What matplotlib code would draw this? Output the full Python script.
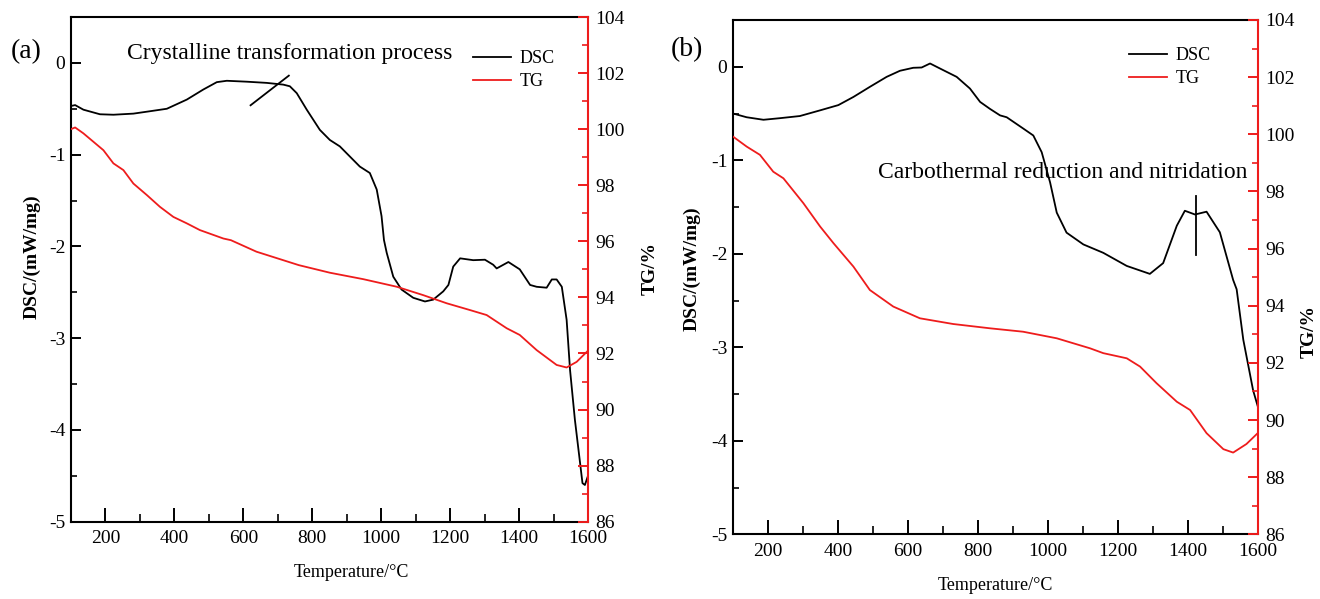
import matplotlib
matplotlib.use('Agg')
import matplotlib.pyplot as plt
from matplotlib.ticker import MultipleLocator

plt.rcParams['font.family'] = ['Liberation Serif', 'DejaVu Serif']
plt.rcParams['axes.unicode_minus'] = False

# ---------------- data ----------------
# panel (a)
a_T_dsc = [100, 112, 136, 184, 223, 281, 329, 378, 436, 484, 523, 552, 610, 668, 716, 735, 755,
           784, 822, 851, 880, 909, 938, 967, 987, 1001, 1008, 1016, 1035, 1059, 1093, 1127, 1151,
           1180, 1195, 1209, 1229, 1267, 1301, 1325, 1335, 1369, 1402, 1432, 1451, 1480, 1495,
           1509, 1524, 1538, 1548, 1562, 1577, 1584, 1591, 1600]
a_dsc = [-0.47, -0.46, -0.51, -0.56, -0.565, -0.553, -0.527, -0.50, -0.40, -0.29, -0.21, -0.195,
         -0.205, -0.218, -0.237, -0.255, -0.33, -0.51, -0.73, -0.84, -0.91, -1.02, -1.13, -1.20,
         -1.38, -1.67, -1.93, -2.07, -2.33, -2.47, -2.56, -2.60, -2.58, -2.49, -2.42, -2.22, -2.13,
         -2.15, -2.145, -2.20, -2.24, -2.17, -2.25, -2.42, -2.44, -2.45, -2.36, -2.36, -2.44, -2.80,
         -3.35, -3.89, -4.36, -4.58, -4.60, -4.50]
a_T_tg = [100, 112, 136, 165, 194, 223, 252, 281, 320, 358, 397, 436, 474, 542, 564, 638, 761,
          851, 948, 1045, 1122, 1190, 1257, 1306, 1364, 1402, 1451, 1509, 1538, 1567, 1600]
a_tg = [100.0, 100.06, 99.85, 99.55, 99.25, 98.78, 98.54, 98.06, 97.65, 97.23, 96.87, 96.64, 96.4,
        96.1, 96.04, 95.63, 95.15, 94.88, 94.65, 94.38, 94.08, 93.79, 93.55, 93.37, 92.9, 92.66,
        92.12, 91.59, 91.5, 91.7, 92.1]

# panel (b)
b_T_dsc = [100, 139, 187, 234, 291, 349, 401, 444, 491, 539, 577, 615, 639, 663, 691, 739, 777,
           806, 834, 863, 882, 929, 958, 982, 1006, 1025, 1053, 1101, 1158, 1225, 1291, 1329, 1368,
           1391, 1420, 1453, 1491, 1529, 1539, 1558, 1586, 1600]
b_dsc = [-0.50, -0.54, -0.567, -0.55, -0.527, -0.466, -0.41, -0.323, -0.215, -0.108, -0.043,
         -0.011, -0.008, 0.035, -0.018, -0.108, -0.233, -0.376, -0.45, -0.52, -0.54, -0.66, -0.735,
         -0.914, -1.237, -1.56, -1.774, -1.90, -1.99, -2.13, -2.215, -2.10, -1.70, -1.54, -1.58,
         -1.55, -1.77, -2.28, -2.38, -2.92, -3.46, -3.64]
b_T_tg = [100, 139, 177, 215, 244, 301, 349, 387, 444, 491, 558, 634, 729, 834, 929, 1025, 1120,
          1158, 1225, 1263, 1310, 1368, 1406, 1453, 1501, 1529, 1567, 1600]
b_tg = [99.92, 99.57, 99.28, 98.69, 98.46, 97.59, 96.77, 96.19, 95.37, 94.55, 93.97, 93.56, 93.36,
        93.21, 93.09, 92.86, 92.51, 92.34, 92.16, 91.87, 91.29, 90.64, 90.35, 89.54, 88.98, 88.86,
        89.16, 89.55]

# annotation marker lines
a_mark_T = [621, 732]
a_mark_dsc = [-0.462, -0.139]
b_mark_T = [1422, 1422]
b_mark_dsc = [-1.387, -2.01]

x_ticks = [200, 400, 600, 800, 1000, 1200, 1400, 1600]
dsc_ticks = [-5, -4, -3, -2, -1, 0]
tg_ticks = [86, 88, 90, 92, 94, 96, 98, 100, 102, 104]

# ---------------- style ----------------
RED = '#ee1c1c'
W, H = 1320, 599
fig = plt.figure(figsize=(13.2, 5.99), dpi=100)
TICK_FS = 14


def rect(x0, y0, x1, y1):
    return [x0 / W, 1 - y1 / H, (x1 - x0) / W, (y1 - y0) / H]


def panel(r, T_dsc, dsc, T_tg, tg, mark_T, mark_dsc, dsc_lab, tg_lab, t_lab, leg_c):
    ax = fig.add_axes(r)
    l1, = ax.plot(T_dsc, dsc, color='black', lw=1.3, label='DSC')
    ax.plot(mark_T, mark_dsc, color='black', lw=1.3)
    ax.set_xlim(100, 1600)
    ax.set_ylim(-5, 0.5)
    ax.set_xticks(x_ticks)
    ax.set_yticks(dsc_ticks)
    ax.xaxis.set_minor_locator(MultipleLocator(100))
    ax.yaxis.set_minor_locator(MultipleLocator(0.5))
    ax.tick_params(axis='x', which='major', direction='in', length=10, width=1.4,
                   labelsize=TICK_FS, pad=6, top=False)
    ax.tick_params(axis='x', which='minor', direction='in', length=5.5, width=1.2, top=False)
    ax.tick_params(axis='y', which='major', direction='in', length=7, width=1.4,
                   labelsize=TICK_FS, pad=4, right=False)
    ax.tick_params(axis='y', which='minor', direction='in', length=4, width=1.2, right=False)
    for s in ['left', 'bottom', 'top']:
        ax.spines[s].set_linewidth(1.5)
    ax.spines['right'].set_visible(False)

    ax2 = ax.twinx()
    l2, = ax2.plot(T_tg, tg, color=RED, lw=1.3, label='TG')
    ax2.set_ylim(86, 104)
    ax2.set_yticks(tg_ticks)
    ax2.yaxis.set_minor_locator(MultipleLocator(1))
    ax2.tick_params(axis='y', which='major', direction='in', length=7.5, width=1.4,
                    color=RED, labelcolor='black', labelsize=TICK_FS, pad=5)
    ax2.tick_params(axis='y', which='minor', direction='in', length=4.5, width=1.2, color=RED)
    for s in ['left', 'bottom', 'top']:
        ax2.spines[s].set_visible(False)
    ax2.spines['right'].set_color(RED)
    ax2.spines['right'].set_linewidth(1.5)

    ax.set_ylabel('DSC/(mW/mg)', fontsize=14, fontweight='bold', va='center', ha='center')
    ax.yaxis.set_label_coords(*dsc_lab)
    ax2.set_ylabel('TG/%', fontsize=14, fontweight='bold', va='center', ha='center')
    ax2.yaxis.set_label_coords(*tg_lab)
    ax.set_xlabel('Temperature/\u00b0C', fontsize=13, va='center', ha='center')
    ax.xaxis.set_label_coords(*t_lab)

    fig.legend([l1, l2], ['DSC', 'TG'], loc='center',
               bbox_to_anchor=(leg_c[0] / W, 1 - leg_c[1] / H), frameon=False,
               borderpad=0, handlelength=2.1, handletextpad=0.45, labelspacing=0.35,
               fontsize=13)
    return ax, ax2


panel(rect(71, 17, 588, 521.7), a_T_dsc, a_dsc, a_T_tg, a_tg, a_mark_T, a_mark_dsc,
      (-0.0754, 0.526), (1.12, 0.5025), (0.542, -0.1016), (514, 70))
panel(rect(733, 20, 1258, 534.3), b_T_dsc, b_dsc, b_T_tg, b_tg, b_mark_T, b_mark_dsc,
      (-0.078, 0.516), (1.097, 0.395), (0.5, -0.0986), (1170, 67))

fig.text(26 / W, 1 - 52 / H, '(a)', fontsize=20, ha='center', va='center')
fig.text(687 / W, 1 - 50 / H, '(b)', fontsize=20, ha='center', va='center')
fig.text(290 / W, 1 - 53 / H, 'Crystalline transformation process', fontsize=17,
         ha='center', va='center')
fig.text(1063 / W, 1 - 173 / H, 'Carbothermal reduction and nitridation', fontsize=17,
         ha='center', va='center')

fig.savefig('out.png', dpi=100)
